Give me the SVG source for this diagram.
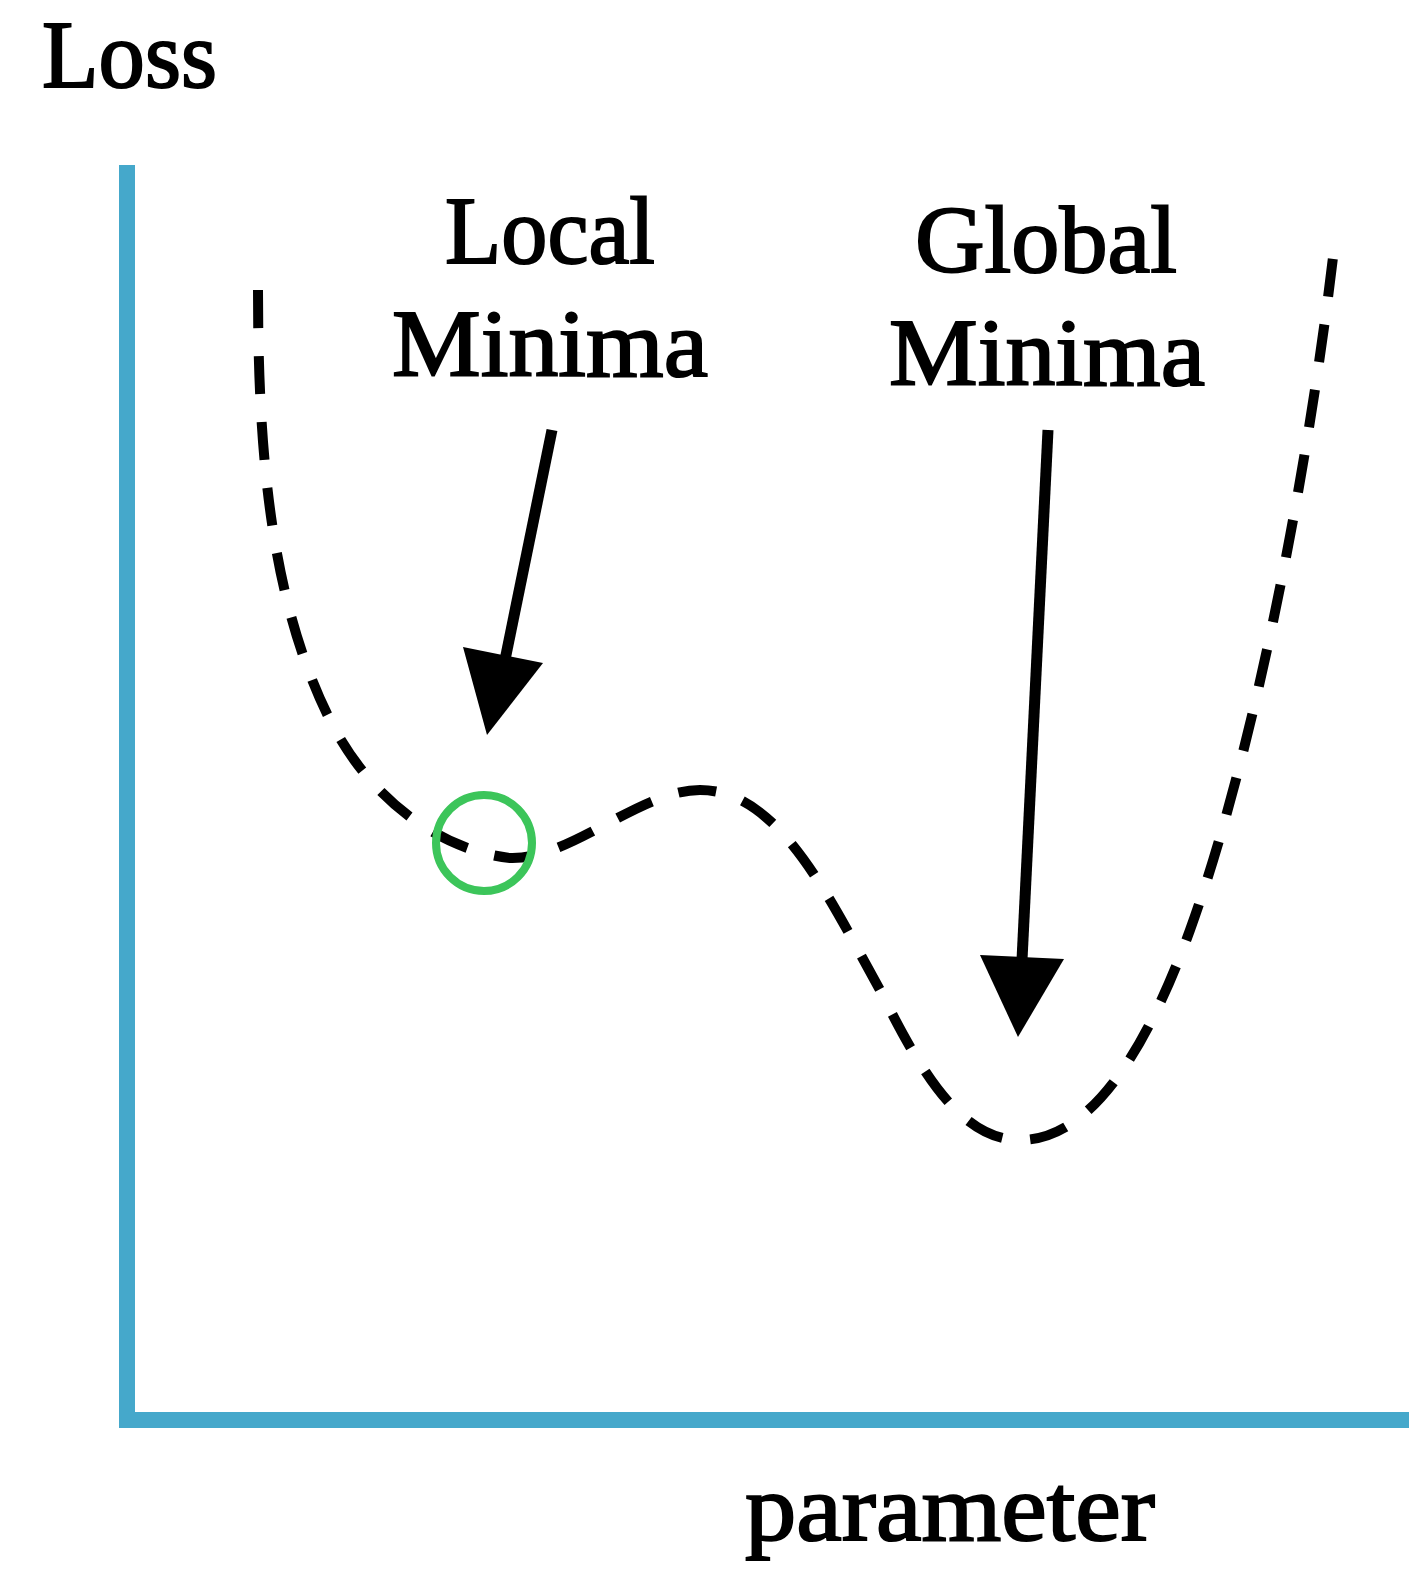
<svg xmlns="http://www.w3.org/2000/svg" width="1409" height="1573" viewBox="0 0 1409 1573">
<style>
.t{font-family:"Liberation Serif","Times New Roman",serif;font-weight:normal;fill:#000;stroke:#000;stroke-width:2}
.axis{stroke:#45A8CB;stroke-width:16;fill:none}
.curve{stroke:#000;stroke-width:10;fill:none;stroke-dasharray:38 28}
.arr{stroke:#000;stroke-width:11;fill:none}
</style>
<rect width="1409" height="1573" fill="#fff"/>
<g id="axes">
<line class="axis" x1="127" y1="165" x2="127" y2="1428"/>
<line class="axis" x1="119" y1="1420" x2="1409" y2="1420"/>
</g>
<g id="labels">
<text class="t" x="42" y="87" font-size="96" textLength="175" lengthAdjust="spacingAndGlyphs">Loss</text>
<text class="t" x="445" y="263" font-size="96" textLength="210" lengthAdjust="spacingAndGlyphs">Local</text>
<text class="t" x="392" y="376" font-size="96" textLength="316" lengthAdjust="spacingAndGlyphs">Minima</text>
<text class="t" x="915" y="272" font-size="96" textLength="262" lengthAdjust="spacingAndGlyphs">Global</text>
<text class="t" x="889" y="385" font-size="96" textLength="316" lengthAdjust="spacingAndGlyphs">Minima</text>
<text class="t" x="745" y="1540" font-size="96" textLength="410" lengthAdjust="spacingAndGlyphs">parameter</text>
</g>
<g id="connectors">
<path id="loss-curve" class="curve" d="M258,290 C258,450 270,600 330,720 C370,800 440,850 510,858 C570,860 640,790 700,790 C780,790 830,900 880,990 C920,1070 960,1140 1020,1140 C1095,1140 1150,1040 1190,930 C1255,750 1310,460 1335,240"/>
<line class="arr" x1="552" y1="430" x2="505" y2="660"/>
<polygon points="463,647 543,663 487,735" fill="#000"/>
<line class="arr" x1="1048" y1="430" x2="1022" y2="960"/>
<polygon points="980,955 1064,959 1018,1037" fill="#000"/>
</g>
<g id="local-min-marker">
<circle cx="484" cy="843" r="48" fill="none" stroke="#3CC55A" stroke-width="8"/>
</g>
</svg>
